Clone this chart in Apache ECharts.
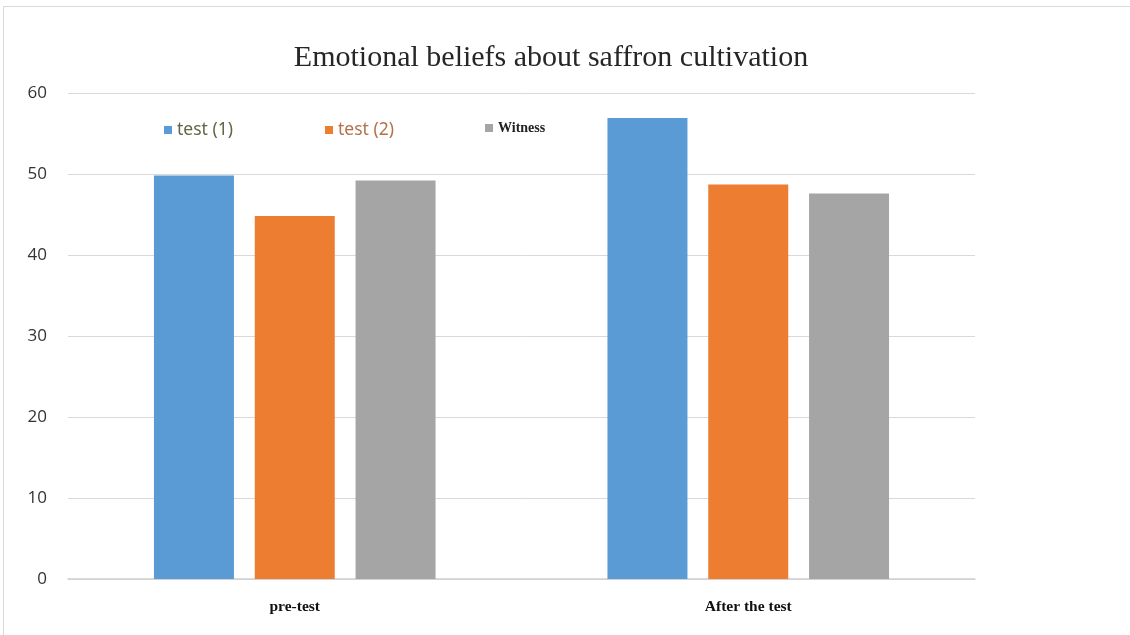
<!DOCTYPE html>
<html>
<head>
<meta charset="utf-8">
<script src="https://cdn.jsdelivr.net/npm/echarts@6/dist/echarts.min.js"></script>
<style>
  html, body { margin: 0; padding: 0; background: #fff; }
  #frame {
    position: absolute; left: 3px; top: 6px; width: 1140px; height: 640px;
    border: 1px solid #d9d9d9; box-sizing: border-box;
  }
  #chart { position: absolute; left: 0; top: 0; width: 1130px; height: 635px; }
</style>
</head>
<body>
<div id="frame"></div>
<div id="chart"></div>
<script>
// chart data
const categories = ["pre-test", "After the test"];
const test1 = [49.8, 56.9];
const test2 = [44.8, 48.7];
const witness = [49.2, 47.6];
const yTicks = [0, 10, 20, 30, 40, 50, 60];

const chart = echarts.init(document.getElementById("chart"));

function legendAt(name, left, textStyle) {
  return {
    data: [{ name: name, textStyle: textStyle }],
    left: left,
    top: 116,
    icon: "rect",
    itemWidth: 8,
    itemHeight: 8,
    itemGap: 10
  };
}

chart.setOption({
  animation: false,
  title: {
    text: "Emotional beliefs about saffron cultivation",
    left: 546,
    textAlign: "center",
    top: 38,
    textStyle: {
      fontFamily: "Liberation Serif",
      fontWeight: "normal",
      fontSize: 30,
      color: "#262626"
    }
  },
  legend: [
    legendAt("test (1)", 159, { fontFamily: "Noto Sans", fontSize: 17.5, color: "#5f6844" }),
    legendAt("test (2)", 320, { fontFamily: "Noto Sans", fontSize: 17.5, color: "#b5714a" }),
    legendAt("Witness", 480, { fontFamily: "Liberation Serif", fontSize: 14, fontWeight: "bold", color: "#222" })
  ],
  grid: {
    left: 68,
    right: 155,
    top: 93,
    bottom: 56,
    containLabel: false
  },
  xAxis: {
    type: "category",
    data: categories,
    axisTick: { show: false },
    axisLine: { lineStyle: { color: "#d0d0d0", width: 1.5 } },
    axisLabel: {
      margin: 20,
      fontFamily: "Liberation Serif",
      fontWeight: "bold",
      fontSize: 15.5,
      color: "#111"
    }
  },
  yAxis: {
    type: "value",
    min: yTicks[0],
    max: yTicks[yTicks.length - 1],
    interval: 10,
    axisLine: { show: false },
    axisTick: { show: false },
    splitLine: { lineStyle: { color: "#d9d9d9", width: 1 } },
    axisLabel: {
      margin: 21,
      fontFamily: "Open Sans",
      fontSize: 17,
      color: "#333"
    }
  },
  series: [
    {
      name: "test (1)",
      type: "bar",
      data: test1,
      barWidth: 80,
      barGap: "26%",
      itemStyle: { color: "#5b9bd5" }
    },
    {
      name: "test (2)",
      type: "bar",
      data: test2,
      barWidth: 80,
      barGap: "26%",
      itemStyle: { color: "#ed7d31" }
    },
    {
      name: "Witness",
      type: "bar",
      data: witness,
      barWidth: 80,
      barGap: "26%",
      itemStyle: { color: "#a5a5a5" }
    }
  ]
});
</script>
</body>
</html>
